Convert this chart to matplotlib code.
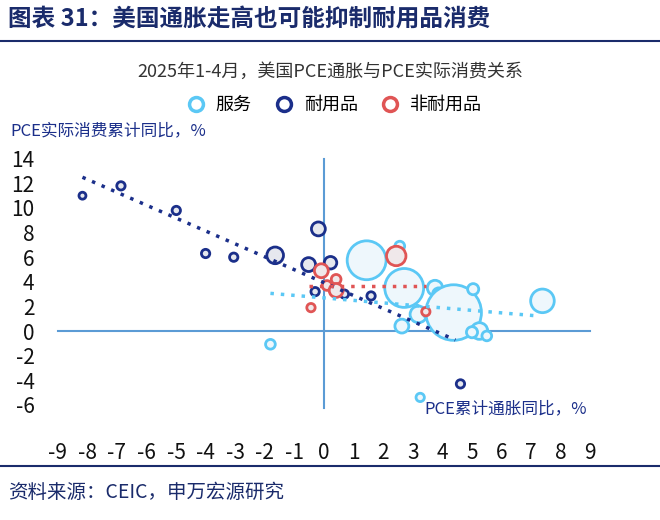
import matplotlib
matplotlib.use('Agg')
import matplotlib.pyplot as plt
from matplotlib.lines import Line2D

plt.rcParams['font.family'] = ['Noto Sans CJK SC', 'DejaVu Sans']
plt.rcParams['axes.unicode_minus'] = False

# durable goods (x: PCE inflation, y: real consumption, size)
dur_x = [-8.16, -6.86, -4.99, -4.0, -3.05, -1.65, -0.52, 0.22, -0.19, -0.3, 0.69, 1.59, 4.61]
dur_y = [11.0, 11.8, 9.8, 6.3, 6.0, 6.15, 5.4, 5.55, 8.3, 3.2, 3.0, 2.85, -4.3]
dur_s = [5, 6, 6, 6, 6, 12, 10, 9, 10, 6, 6, 6, 6]

non_x = [-0.09, 0.41, 0.1, 0.41, -0.44, 2.44, 3.44]
non_y = [4.9, 4.2, 3.7, 3.3, 1.9, 6.1, 1.57]
non_s = [10, 7, 7, 10, 6, 14, 6]

svc_x = [-1.81, 2.56, 1.44, 2.71, 2.63, 3.75, 3.88, 3.8, 3.81, 3.19, 3.56, 4.38, 5.04, 5.25, 5.5, 5.0, 7.38, 3.25]
svc_y = [-1.08, 6.9, 5.75, 3.5, 0.4, 3.5, 3.0, 2.25, 0.68, 1.35, 1.5, 1.5, 3.4, 0.0, -0.4, -0.1, 2.45, -5.4]
svc_s = [7, 7, 28, 28, 10, 11, 9, 8, 10, 12, 9, 40, 8, 12, 7, 8, 17, 6]

dur_trend = ([-8.16, 4.44], [12.5, -0.73])
non_trend = ([-0.5, 3.44], [3.66, 3.66])
svc_trend = ([-1.81, 7.25], [3.06, 1.22])

navy = '#1B2F8A'
red = '#E05555'
sky = '#5BC8F5'
axis_c = '#5B9BD5'

W, H = 660, 520
fig = plt.figure(figsize=(6.6, 5.2), dpi=100)

# axes placed in pixel terms: x=0 at 324px, 29.6px/unit; y=0 at 331px, 12.3px/unit
xl, xr = -9.5, 9.5
yb, yt = -7, 15
left = 324 + xl * 29.6
right = 324 + xr * 29.6
top = 331 - yt * 12.3
bottom = 331 - yb * 12.3
ax = fig.add_axes([left / W, 1 - bottom / H, (right - left) / W, (bottom - top) / H])
ax.set_xlim(xl, xr)
ax.set_ylim(yb, yt)
for sp in ax.spines.values():
    sp.set_visible(False)

ax.plot([-9, 9], [0, 0], color=axis_c, lw=1.5, zorder=1)
ax.plot([0, 0], [-6.3, 14], color=axis_c, lw=1.5, zorder=1)

ax.scatter(svc_x, svc_y, s=[v ** 2 for v in svc_s], facecolor='#EEF7FC', edgecolor=sky, lw=2, zorder=3)
ax.scatter(dur_x, dur_y, s=[v ** 2 for v in dur_s], facecolor='#E6E8EE', edgecolor=navy, lw=2, zorder=4)
ax.scatter(non_x, non_y, s=[v ** 2 for v in non_s], facecolor='#F0E8EA', edgecolor=red, lw=2, zorder=5)

ax.plot(*dur_trend, color=navy, lw=2.5, ls=(0, (1, 2)), zorder=6)
ax.plot(*non_trend, color=red, lw=2.5, ls=(0, (1, 2)), zorder=6)
ax.plot(*svc_trend, color=sky, lw=2.5, ls=(0, (1, 2)), zorder=6)

ax.set_xticks(range(-9, 10))
ax.set_yticks(range(-6, 15, 2))
ax.tick_params(length=0, labelsize=15, pad=6, labelcolor='#111111')
ax.tick_params(axis='x', pad=18)
ax.text(3.4, -6.3, 'PCE累计通胀同比，%', fontsize=12, color=navy, va='center')

# header / footer
fig.text(8 / W, 1 - 20 / H, '图表 31：美国通胀走高也可能抑制耐用品消费', fontsize=17,
         fontweight='bold', color='#1A2B6B', va='center')
fig.add_artist(Line2D([0, 1], [1 - 41 / H, 1 - 41 / H], color='#1A2B6B', lw=1.5))
fig.text(0.5, 1 - 72 / H, '2025年1-4月，美国PCE通胀与PCE实际消费关系', fontsize=13,
         ha='center', va='center', color='#333333')
handles = [Line2D([], [], marker='o', ls='', mfc='white', mec=c, mew=2.5, ms=10) for c in (sky, navy, red)]
fig.legend(handles, ['服务', '耐用品', '非耐用品'], loc='center', bbox_to_anchor=(0.5, 1 - 105 / H),
           ncol=3, frameon=False, fontsize=13, handletextpad=0.1, columnspacing=0.8)
fig.text(10 / W, 1 - 131 / H, 'PCE实际消费累计同比，%', fontsize=12, color=navy, va='center')
fig.add_artist(Line2D([0, 1], [1 - 466 / H, 1 - 466 / H], color='#1A2B6B', lw=1.5))
fig.text(8 / W, 1 - 492 / H, '资料来源：CEIC，申万宏源研究', fontsize=14, color='#1A2B6B', va='center')

fig.savefig('out.png', dpi=100)
